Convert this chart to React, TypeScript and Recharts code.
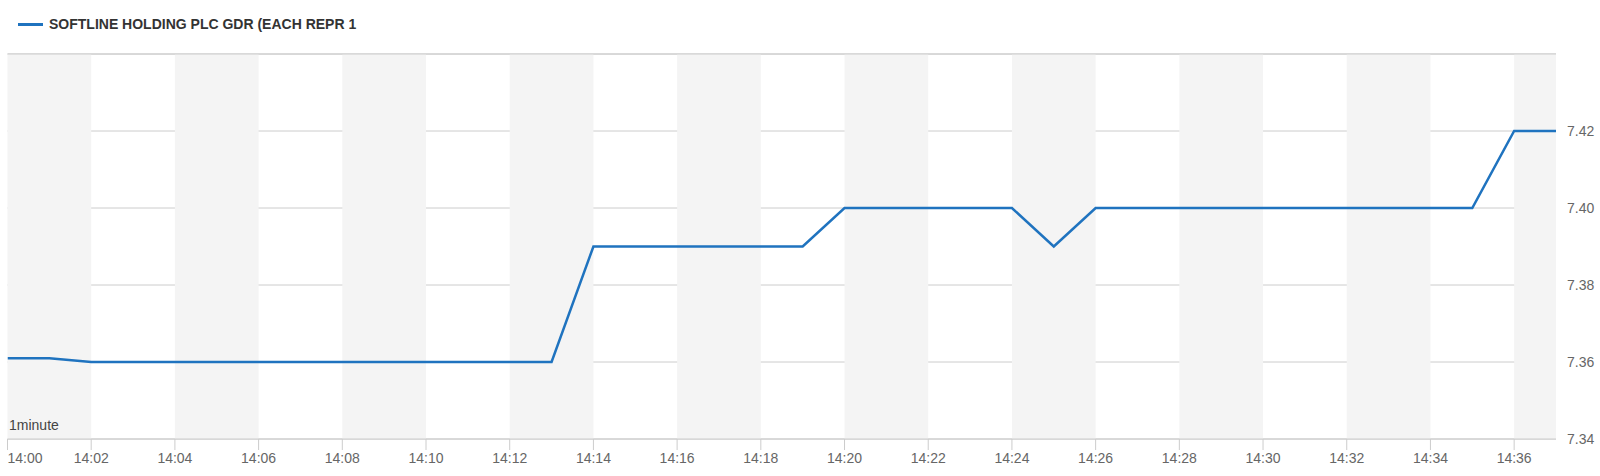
import React from 'react';
import { LineChart, Line, XAxis, YAxis, CartesianGrid, ReferenceArea, ReferenceLine } from 'recharts';

const times = [
  '14:00', '14:01', '14:02', '14:03', '14:04', '14:05', '14:06', '14:07', '14:08', '14:09',
  '14:10', '14:11', '14:12', '14:13', '14:14', '14:15', '14:16', '14:17', '14:18', '14:19',
  '14:20', '14:21', '14:22', '14:23', '14:24', '14:25', '14:26', '14:27', '14:28', '14:29',
  '14:30', '14:31', '14:32', '14:33', '14:34', '14:35', '14:36', '14:37',
];

const prices = [
  7.361, 7.361, 7.36, 7.36, 7.36, 7.36, 7.36, 7.36, 7.36, 7.36,
  7.36, 7.36, 7.36, 7.36, 7.39, 7.39, 7.39, 7.39, 7.39, 7.39,
  7.4, 7.4, 7.4, 7.4, 7.4, 7.39, 7.4, 7.4, 7.4, 7.4,
  7.4, 7.4, 7.4, 7.4, 7.4, 7.4, 7.42, 7.42,
];

const xTicks = ['14:00', '14:02', '14:04', '14:06', '14:08', '14:10', '14:12', '14:14', '14:16', '14:18',
  '14:20', '14:22', '14:24', '14:26', '14:28', '14:30', '14:32', '14:34', '14:36'];
const yTicks = [7.34, 7.36, 7.38, 7.4, 7.42];
const seriesName = 'SOFTLINE HOLDING PLC GDR (EACH REPR 1';

// minutes past 14:00
const toMin = (t: string) => {
  const [h, m] = t.split(':').map(Number);
  return (h - 14) * 60 + m;
};

const data = times.map((t, i) => ({ x: toMin(t), price: prices[i] }));

// shaded 2-minute bands (every other one)
const bands: [number, number][] = [];
for (let s = 0; s < 37; s += 4) bands.push([s, Math.min(s + 2, 37)]);

const FONT = '"Liberation Sans", Arial, sans-serif';
const LINE = '#1f73bf';

const XTick = (props: any) => {
  const { x, y, payload, index } = props;
  const m = payload.value;
  const label = `14:${String(m).padStart(2, '0')}`;
  return (
    <text x={x} y={y} dy="0.71em" textAnchor={index === 0 ? 'start' : 'middle'}
      fill="#666" fontSize={14} fontFamily={FONT}>
      {label}
    </text>
  );
};

const App: React.FC = () => {
  return (
    <div style={{ position: 'absolute', left: 0, top: 0, width: 1600, height: 476, background: '#fff' }}>
      <LineChart width={1600} height={476} data={data} margin={{ top: 54, right: 0, bottom: 0, left: 7.5 }}>
        {bands.map(([a, b]) => (
          <ReferenceArea key={a} x1={a} x2={b} y1={7.34} y2={7.44} fill="#f4f4f4" fillOpacity={1} stroke="none" />
        ))}
        <CartesianGrid vertical={false} stroke="#cccccc" />
        <ReferenceLine y={7.44} stroke="#cccccc" />
        <XAxis
          dataKey="x"
          type="number"
          domain={[0, 37]}
          ticks={xTicks.map(toMin)}
          tick={<XTick />}
          height={37}
          tickSize={11}
          tickMargin={3}
          stroke="#cccccc"
          allowDataOverflow
        />
        <YAxis
          orientation="right"
          type="number"
          domain={[7.34, 7.44]}
          ticks={yTicks}
          tickFormatter={(v: number) => v.toFixed(2)}
          width={44}
          axisLine={false}
          tickLine={false}
          tickSize={6}
          tickMargin={5}
          tick={{ fill: '#666', fontSize: 14, fontFamily: FONT }}
        />
        <Line
          type="linear"
          dataKey="price"
          stroke={LINE}
          strokeWidth={2.5}
          dot={false}
          isAnimationActive={false}
        />
      </LineChart>
      <div style={{ position: 'absolute', left: 18, top: 16, display: 'flex', alignItems: 'center', fontFamily: FONT }}>
        <div style={{ width: 25, height: 3, background: LINE, marginRight: 6 }} />
        <span style={{ fontSize: 14, fontWeight: 'bold', color: '#333' }}>{seriesName}</span>
      </div>
      <div style={{ position: 'absolute', left: 9, top: 417, fontFamily: FONT, fontSize: 14, color: '#444', lineHeight: '16px' }}>
        1minute
      </div>
    </div>
  );
};

export default App;
